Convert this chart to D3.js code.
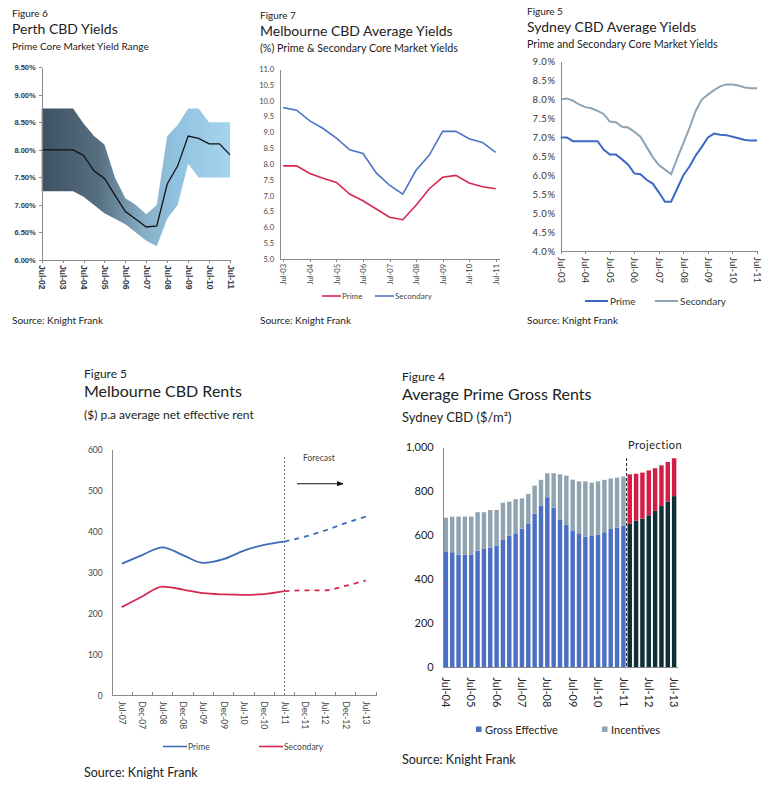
<!DOCTYPE html>
<html>
<head>
<meta charset="utf-8" />
<title>Knight Frank office market charts</title>
<script src="https://cdn.jsdelivr.net/npm/d3@7"></script>
<style>
    body { margin: 0; background: #fff; }
    svg text { font-family: Lato, "Open Sans", sans-serif; fill: #222; }
    .axis path, .axis line { stroke: #8a8a8a; shape-rendering: crispEdges; }
</style>
</head>
<body>
<svg width="783" height="787"></svg>
<script>
// ---- Figure 6: Perth CBD yields (half-yearly) ----
var perthDates = ["Jul-02","Jan-03","Jul-03","Jan-04","Jul-04","Jan-05","Jul-05","Jan-06","Jul-06","Jan-07",
                  "Jul-07","Jan-08","Jul-08","Jan-09","Jul-09","Jan-10","Jul-10","Jan-11","Jul-11"];
var perthMid  = [8.00,8.00,8.00,8.00,7.90,7.62,7.48,7.18,6.88,6.74,6.60,6.62,7.38,7.71,8.25,8.21,8.11,8.11,7.91];
var perthHigh = [8.75,8.75,8.75,8.75,8.48,8.25,8.10,7.50,7.12,7.00,6.83,7.00,8.25,8.45,8.75,8.75,8.50,8.50,8.50];
var perthLow  = [7.25,7.25,7.25,7.25,7.15,7.00,6.85,6.75,6.65,6.50,6.35,6.25,6.75,7.00,7.75,7.50,7.50,7.50,7.50];
var perthTicks = [6.0,6.5,7.0,7.5,8.0,8.5,9.0,9.5];

// ---- Figure 7: Melbourne CBD average yields (half-yearly) ----
var melbDates = ["Jul-03","Jan-04","Jul-04","Jan-05","Jul-05","Jan-06","Jul-06","Jan-07","Jul-07",
                 "Jan-08","Jul-08","Jan-09","Jul-09","Jan-10","Jul-10","Jan-11","Jul-11"];
var melbPrime     = [7.94,7.94,7.70,7.55,7.42,7.05,6.84,6.58,6.32,6.24,6.70,7.22,7.58,7.64,7.40,7.28,7.22];
var melbSecondary = [9.78,9.70,9.36,9.12,8.82,8.45,8.33,7.72,7.33,7.05,7.80,8.28,9.03,9.03,8.80,8.68,8.37];
var melbTicks = [5.0,5.5,6.0,6.5,7.0,7.5,8.0,8.5,9.0,9.5,10.0,10.5,11.0];

// ---- Figure 5: Sydney CBD average yields (quarterly) ----
var sydDates = ["Jul-03","Oct-03","Jan-04","Apr-04","Jul-04","Oct-04","Jan-05","Apr-05","Jul-05","Oct-05",
                "Jan-06","Apr-06","Jul-06","Oct-06","Jan-07","Apr-07","Jul-07","Oct-07","Jan-08","Apr-08",
                "Jul-08","Oct-08","Jan-09","Apr-09","Jul-09","Oct-09","Jan-10","Apr-10","Jul-10","Oct-10",
                "Jan-11","Apr-11","Jul-11"];
var sydPrime     = [7.00,7.00,6.90,6.90,6.90,6.90,6.90,6.68,6.55,6.55,6.42,6.28,6.05,6.03,5.88,5.78,5.55,
                    5.30,5.30,5.65,6.00,6.23,6.52,6.75,7.00,7.10,7.07,7.06,7.02,6.98,6.93,6.92,6.92];
var sydSecondary = [8.00,8.03,7.97,7.87,7.80,7.77,7.70,7.62,7.42,7.40,7.28,7.26,7.15,7.02,6.75,6.48,6.27,
                    6.15,6.03,6.45,6.85,7.25,7.70,8.00,8.13,8.25,8.35,8.40,8.40,8.37,8.32,8.30,8.30];
var sydTicks = [4.0,4.5,5.0,5.5,6.0,6.5,7.0,7.5,8.0,8.5,9.0];

// ---- Figure 5: Melbourne CBD rents ----
var rentCats = ["Jul-07","Dec-07","Jul-08","Dec-08","Jul-09","Dec-09","Jul-10","Dec-10","Jul-11",
                "Dec-11","Jul-12","Dec-12","Jul-13"];
var rentPrime     = [321,342,361,342,323,332,353,367,375,387,402,420,436];
var rentSecondary = [215,241,265,258,249,246,245,247,254,256,256,267,280];
var rentForecastFrom = "Jul-11";
var rentTicks = [0,100,200,300,400,500,600];

// ---- Figure 4: Average prime gross rents, Sydney CBD (quarterly) ----
var barQuarters = ["Jul-04","Oct-04","Jan-05","Apr-05","Jul-05","Oct-05","Jan-06","Apr-06","Jul-06","Oct-06",
                   "Jan-07","Apr-07","Jul-07","Oct-07","Jan-08","Apr-08","Jul-08","Oct-08","Jan-09","Apr-09",
                   "Jul-09","Oct-09","Jan-10","Apr-10","Jul-10","Oct-10","Jan-11","Apr-11","Jul-11","Oct-11",
                   "Jan-12","Apr-12","Jul-12","Oct-12","Jan-13","Apr-13","Jul-13"];
var grossEffective = [527,523,512,512,512,530,538,545,553,579,598,609,630,652,698,735,773,726,671,648,
                      620,609,594,597,603,614,629,635,644,653,667,676,691,711,733,753,778];
var incentives     = [153,162,173,173,173,175,167,170,162,169,155,155,138,136,128,117,109,156,206,223,
                      233,236,251,242,242,238,229,227,223,224,213,209,204,194,185,180,172];
var projectionFrom = "Oct-11";
var barTicks = [0,200,400,600,800,1000];

var svg = d3.select("svg");

// top row: small headings, bottom row: larger ones
function heading(x, fig, title, sub, y0, big, subSize) {
    svg.append("text").attr("x", x).attr("y", y0).style("font-size", big ? "12px" : "10px").text(fig);
    svg.append("text").attr("x", x).attr("y", y0 + (big ? 19 : 17))
        .style("font-size", big ? "16px" : "14px").text(title);
    svg.append("text").attr("x", x).attr("y", y0 + (big ? 41 : 33))
        .style("font-size", subSize).text(sub);
}
function source(x, y, size) {
    svg.append("text").attr("x", x).attr("y", y).style("font-size", size).text("Source: Knight Frank");
}
function julOnly(list) {
    return list.filter(function (d) { return d.slice(0, 3) === "Jul"; });
}

// ================= Figure 6 =================
heading(12, "Figure 6", "Perth CBD Yields", "Prime Core Market Yield Range", 17, false, "10px");
source(12, 324, "10px");
(function () {
    var x = d3.scalePoint().domain(perthDates).range([41.7, 230]);
    var y = d3.scaleLinear().domain([6, 9.5]).range([260, 67.3]);

    var grad = svg.append("defs").append("linearGradient").attr("id", "perthGrad")
        .attr("gradientUnits", "userSpaceOnUse").attr("x1", 41.7).attr("x2", 230).attr("y1", 0).attr("y2", 0);
    [[0, "#3d5162"], [0.3, "#556e80"], [0.55, "#88b0c8"], [0.72, "#90c3e0"], [1, "#a7d4ee"]].forEach(function (s) {
        grad.append("stop").attr("offset", s[0]).attr("stop-color", s[1]);
    });

    var area = d3.area()
        .x(function (d, i) { return x(perthDates[i]); })
        .y0(function (d, i) { return y(perthLow[i]); })
        .y1(function (d) { return y(d); });
    svg.append("path").datum(perthHigh).attr("d", area).attr("fill", "url(#perthGrad)");

    var line = d3.line().x(function (d, i) { return x(perthDates[i]); }).y(function (d) { return y(d); });
    svg.append("path").datum(perthMid).attr("d", line)
        .attr("fill", "none").attr("stroke", "#111").attr("stroke-width", 1.3);

    var ya = svg.append("g").attr("class", "axis").attr("transform", "translate(41.7,0)")
        .call(d3.axisLeft(y).tickValues(perthTicks).tickSize(3).tickSizeOuter(0)
            .tickFormat(function (d) { return d.toFixed(2) + "%"; }));
    ya.selectAll("text").style("font-family", "'Liberation Sans', Arial, sans-serif")
        .style("font-weight", "bold").style("font-size", "7.5px").style("fill", "#33384a");

    var xa = svg.append("g").attr("class", "axis").attr("transform", "translate(0,260)")
        .call(d3.axisBottom(x).tickValues(julOnly(perthDates)).tickSize(3).tickSizeOuter(0));
    xa.selectAll("text").attr("transform", "rotate(90)").attr("x", 5).attr("y", 0).attr("dy", "0.35em")
        .style("text-anchor", "start").style("font-family", "'Liberation Sans', Arial, sans-serif")
        .style("font-weight", "bold").style("font-size", "8.5px").style("fill", "#33384a");
})();

// ================= Figure 7 =================
heading(260, "Figure 7", "Melbourne CBD Average Yields", "(%) Prime & Secondary Core Market Yields", 19, false, "10.7px");
source(260, 324, "10px");
(function () {
    var x = d3.scalePoint().domain(melbDates).range([283.3, 495.7]);
    var y = d3.scaleLinear().domain([5, 11]).range([259, 69]);
    var line = d3.line().x(function (d, i) { return x(melbDates[i]); }).y(function (d) { return y(d); });

    var ya = svg.append("g").attr("class", "axis").attr("transform", "translate(280,0)")
        .call(d3.axisLeft(y).tickValues(melbTicks).tickSize(0).tickPadding(6).tickFormat(d3.format(".1f")));
    ya.selectAll("text").style("font-size", "7.5px").style("fill", "#444");

    var xa = svg.append("g").attr("class", "axis").attr("transform", "translate(0,259)")
        .call(d3.axisBottom(x).tickValues(julOnly(melbDates)).tickSize(3).tickSizeOuter(0));
    xa.select(".domain").attr("d", "M280,0H500");
    xa.selectAll("text").attr("transform", "rotate(-90)").attr("x", -5).attr("y", 0).attr("dy", "0.35em")
        .style("text-anchor", "end").style("font-size", "7.5px").style("fill", "#444");

    svg.append("path").datum(melbSecondary).attr("d", line)
        .attr("fill", "none").attr("stroke", "#4d73c6").attr("stroke-width", 1.6);
    svg.append("path").datum(melbPrime).attr("d", line)
        .attr("fill", "none").attr("stroke", "#d7264e").attr("stroke-width", 1.6);

    var leg = [["Prime", "#d7264e", 322], ["Secondary", "#4d73c6", 375]];
    leg.forEach(function (l) {
        svg.append("line").attr("x1", l[2]).attr("x2", l[2] + 19).attr("y1", 296).attr("y2", 296)
            .attr("stroke", l[1]).attr("stroke-width", 1.6);
        svg.append("text").attr("x", l[2] + 20).attr("y", 299).style("font-size", "8px").style("fill", "#444").text(l[0]);
    });
})();

// ================= Figure 5 (Sydney yields) =================
heading(527, "Figure 5", "Sydney CBD Average Yields", "Prime and Secondary Core Market Yields", 15, false, "10.7px");
source(527, 324, "10px");
(function () {
    var x = d3.scalePoint().domain(sydDates).range([560.7, 757]);
    var y = d3.scaleLinear().domain([4, 9]).range([251, 61.7]);
    var line = d3.line().x(function (d, i) { return x(sydDates[i]); }).y(function (d) { return y(d); });

    var ya = svg.append("g").attr("class", "axis").attr("transform", "translate(560.7,0)")
        .call(d3.axisLeft(y).tickValues(sydTicks).tickSize(0).tickPadding(5)
            .tickFormat(function (d) { return d.toFixed(1) + "%"; }));
    ya.selectAll("text").style("font-size", "9.5px").style("letter-spacing", "0.6px").style("fill", "#333");

    var xa = svg.append("g").attr("class", "axis").attr("transform", "translate(0,251)")
        .call(d3.axisBottom(x).tickValues(julOnly(sydDates)).tickSize(3).tickSizeOuter(0));
    xa.selectAll("text").attr("transform", "rotate(90)").attr("x", 6).attr("y", 0).attr("dy", "0.35em")
        .style("text-anchor", "start").style("font-size", "9.5px").style("fill", "#333");

    svg.append("path").datum(sydSecondary).attr("d", line)
        .attr("fill", "none").attr("stroke", "#8ea4b3").attr("stroke-width", 2);
    svg.append("path").datum(sydPrime).attr("d", line)
        .attr("fill", "none").attr("stroke", "#3d68c6").attr("stroke-width", 2);

    var leg = [["Prime", "#3d68c6", 585], ["Secondary", "#8ea4b3", 655]];
    leg.forEach(function (l) {
        svg.append("line").attr("x1", l[2]).attr("x2", l[2] + 23).attr("y1", 301).attr("y2", 301)
            .attr("stroke", l[1]).attr("stroke-width", 2);
        svg.append("text").attr("x", l[2] + 25).attr("y", 305).style("font-size", "10px").style("fill", "#333").text(l[0]);
    });
})();

// ================= Figure 5 (Melbourne rents) =================
heading(84, "Figure 5", "Melbourne CBD Rents", "($) p.a average net effective rent", 378, true, "12px");
source(84, 777, "12.5px");
(function () {
    var x = d3.scaleBand().domain(rentCats).range([111.7, 376]);
    var y = d3.scaleLinear().domain([0, 600]).range([695.3, 449.3]);
    var cx = function (d) { return x(d) + x.bandwidth() / 2; };
    var fi = rentCats.indexOf(rentForecastFrom);

    var ya = svg.append("g").attr("class", "axis").attr("transform", "translate(111.7,0)")
        .call(d3.axisLeft(y).tickValues(rentTicks).tickSize(0).tickPadding(9));
    ya.selectAll("text").style("font-size", "8.5px").style("fill", "#444");

    var xa = svg.append("g").attr("class", "axis").attr("transform", "translate(0,695.3)")
        .call(d3.axisBottom(x).tickSize(0).tickSizeOuter(0));
    xa.selectAll(".tick line").remove();
    rentCats.forEach(function (c, i) {
        if (i > 0) xa.append("line").attr("x1", x(c)).attr("x2", x(c)).attr("y1", 0).attr("y2", -3).attr("stroke", "#555");
    });
    xa.append("line").attr("x1", 376).attr("x2", 376).attr("y1", 0).attr("y2", -3).attr("stroke", "#555");
    xa.selectAll("text").attr("transform", "rotate(90)").attr("x", 6).attr("y", 0).attr("dy", "0.35em")
        .style("text-anchor", "start").style("font-size", "8.5px").style("fill", "#444");

    // forecast divider
    svg.append("line").attr("x1", cx(rentForecastFrom)).attr("x2", cx(rentForecastFrom))
        .attr("y1", 457).attr("y2", 695.3).attr("stroke", "#777").attr("stroke-dasharray", "2,2");
    svg.append("text").attr("x", 303).attr("y", 461).style("font-size", "8.5px").style("fill", "#444").text("Forecast");
    svg.append("defs").append("marker").attr("id", "arr").attr("viewBox", "0 0 10 10").attr("refX", 9).attr("refY", 5)
        .attr("markerWidth", 6).attr("markerHeight", 6).attr("orient", "auto")
        .append("path").attr("d", "M0,1L10,5L0,9Z").attr("fill", "#111");
    svg.append("line").attr("x1", 297).attr("x2", 343).attr("y1", 483.7).attr("y2", 483.7)
        .attr("stroke", "#111").attr("stroke-width", 1.1).attr("marker-end", "url(#arr)");

    var series = [[rentPrime, "#3b6db5"], [rentSecondary, "#d52a50"]];
    var line = d3.line().curve(d3.curveMonotoneX)
        .x(function (d) { return cx(d.c); }).y(function (d) { return y(d.v); });
    series.forEach(function (s) {
        var pts = rentCats.map(function (c, i) { return { c: c, v: s[0][i] }; });
        svg.append("path").datum(pts.slice(0, fi + 1)).attr("d", line)
            .attr("fill", "none").attr("stroke", s[1]).attr("stroke-width", 1.8);
        svg.append("path").datum(pts.slice(fi)).attr("d", line)
            .attr("fill", "none").attr("stroke", s[1]).attr("stroke-width", 1.8).attr("stroke-dasharray", "5,5");
    });

    var leg = [["Prime", "#3b6db5", 163], ["Secondary", "#d52a50", 259]];
    leg.forEach(function (l) {
        svg.append("line").attr("x1", l[2]).attr("x2", l[2] + 24).attr("y1", 746.5).attr("y2", 746.5)
            .attr("stroke", l[1]).attr("stroke-width", 1.6);
        svg.append("text").attr("x", l[2] + 25).attr("y", 749.5).style("font-size", "8.5px").style("fill", "#444").text(l[0]);
    });
})();

// ================= Figure 4 =================
heading(402, "Figure 4", "Average Prime Gross Rents", "Sydney CBD ($/m\u00b2)", 381, true, "13px");
source(402, 764, "12.5px");
(function () {
    var x = d3.scaleBand().domain(barQuarters).range([442.7, 677.3]).paddingInner(0.3).paddingOuter(0.15);
    var y = d3.scaleLinear().domain([0, 1000]).range([667.3, 447.3]);
    var pi = barQuarters.indexOf(projectionFrom);

    var rows = barQuarters.map(function (q, i) {
        return { q: q, gross: grossEffective[i], inc: incentives[i], proj: i >= pi };
    });
    var stack = d3.stack().keys(["gross", "inc"])(rows);
    var colours = { gross: ["#4a6fc4", "#0f2e36"], inc: ["#8fa3b1", "#d41d45"] };

    stack.forEach(function (layer) {
        svg.append("g").selectAll("rect").data(layer).enter().append("rect")
            .attr("x", function (d) { return x(d.data.q); })
            .attr("width", x.bandwidth())
            .attr("y", function (d) { return y(d[1]); })
            .attr("height", function (d) { return y(d[0]) - y(d[1]); })
            .attr("fill", function (d) { return colours[layer.key][d.data.proj ? 1 : 0]; });
    });

    var ya = svg.append("g").attr("class", "axis").attr("transform", "translate(442.7,0)")
        .call(d3.axisLeft(y).tickValues(barTicks).tickSize(0).tickPadding(9).tickFormat(d3.format(",")));
    ya.selectAll("text").style("font-size", "11px").style("fill", "#222");

    var xa = svg.append("g").attr("class", "axis").attr("transform", "translate(0,667.3)")
        .call(d3.axisBottom(x).tickValues(julOnly(barQuarters)).tickSize(0).tickSizeOuter(0));
    xa.selectAll("text").attr("transform", "rotate(90)").attr("x", 10).attr("y", 0).attr("dy", "0.35em")
        .style("text-anchor", "start").style("font-size", "11px").style("fill", "#222");

    var dx = (x(barQuarters[pi - 1]) + x.bandwidth() + x(projectionFrom)) / 2;
    svg.append("line").attr("x1", dx).attr("x2", dx).attr("y1", 458).attr("y2", 667.3)
        .attr("stroke", "#222").attr("stroke-width", 1).attr("stroke-dasharray", "3,2");
    svg.append("text").attr("x", 628).attr("y", 449).style("font-size", "11px")
        .style("letter-spacing", "0.5px").text("Projection");

    var leg = [["Gross Effective", "#4a6fc4", 476], ["Incentives", "#8fa3b1", 602]];
    leg.forEach(function (l) {
        svg.append("rect").attr("x", l[2]).attr("y", 726.5).attr("width", 5.5).attr("height", 5.5).attr("fill", l[1]);
        svg.append("text").attr("x", l[2] + 9).attr("y", 733.5).style("font-size", "11px").text(l[0]);
    });
})();
</script>
</body>
</html>
